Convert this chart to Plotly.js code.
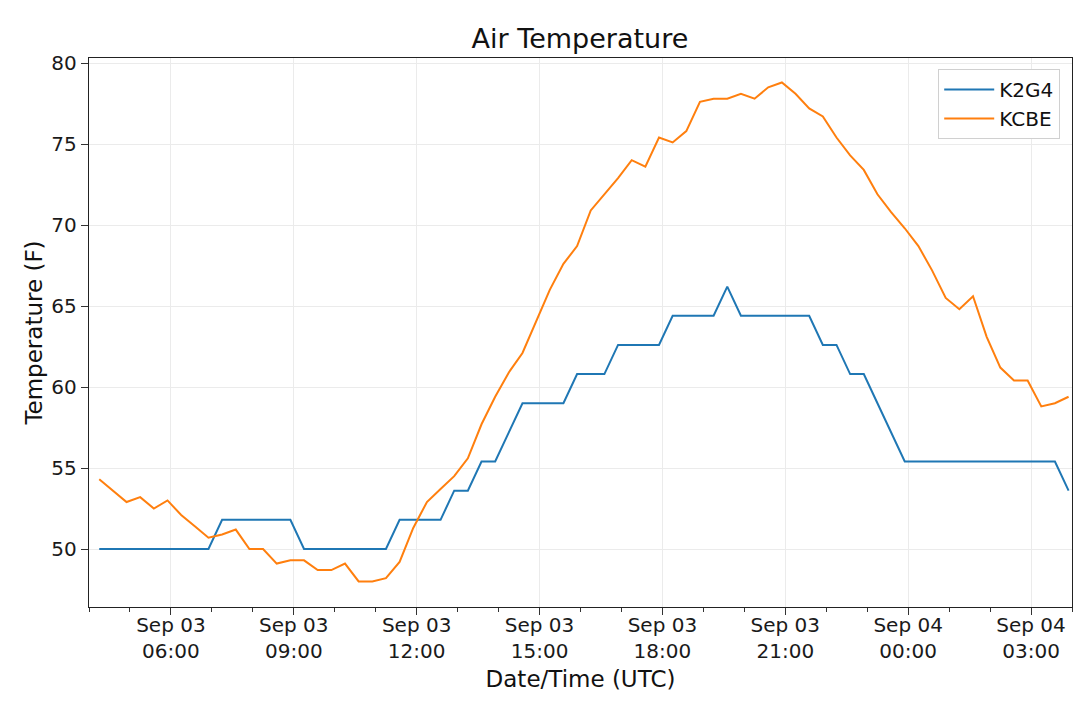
<!DOCTYPE html>
<html>
<head>
<meta charset="utf-8">
<script src="https://cdn.plot.ly/plotly-3.0.1.min.js"></script>
<style>
  html, body { margin: 0; padding: 0; background: #fff; }
  #chart { width: 1080px; height: 704px; }
</style>
</head>
<body>
<div id="chart"></div>
<script>
// observation times (UTC), every 20 minutes
var times = [
  '2019-09-03 04:15', '2019-09-03 04:35', '2019-09-03 04:55', '2019-09-03 05:15', '2019-09-03 05:35', '2019-09-03 05:55',
  '2019-09-03 06:15', '2019-09-03 06:35', '2019-09-03 06:55', '2019-09-03 07:15', '2019-09-03 07:35', '2019-09-03 07:55',
  '2019-09-03 08:15', '2019-09-03 08:35', '2019-09-03 08:55', '2019-09-03 09:15', '2019-09-03 09:35', '2019-09-03 09:55',
  '2019-09-03 10:15', '2019-09-03 10:35', '2019-09-03 10:55', '2019-09-03 11:15', '2019-09-03 11:35', '2019-09-03 11:55',
  '2019-09-03 12:15', '2019-09-03 12:35', '2019-09-03 12:55', '2019-09-03 13:15', '2019-09-03 13:35', '2019-09-03 13:55',
  '2019-09-03 14:15', '2019-09-03 14:35', '2019-09-03 14:55', '2019-09-03 15:15', '2019-09-03 15:35', '2019-09-03 15:55',
  '2019-09-03 16:15', '2019-09-03 16:35', '2019-09-03 16:55', '2019-09-03 17:15', '2019-09-03 17:35', '2019-09-03 17:55',
  '2019-09-03 18:15', '2019-09-03 18:35', '2019-09-03 18:55', '2019-09-03 19:15', '2019-09-03 19:35', '2019-09-03 19:55',
  '2019-09-03 20:15', '2019-09-03 20:35', '2019-09-03 20:55', '2019-09-03 21:15', '2019-09-03 21:35', '2019-09-03 21:55',
  '2019-09-03 22:15', '2019-09-03 22:35', '2019-09-03 22:55', '2019-09-03 23:15', '2019-09-03 23:35', '2019-09-03 23:55',
  '2019-09-04 00:15', '2019-09-04 00:35', '2019-09-04 00:55', '2019-09-04 01:15', '2019-09-04 01:35', '2019-09-04 01:55',
  '2019-09-04 02:15', '2019-09-04 02:35', '2019-09-04 02:55', '2019-09-04 03:15', '2019-09-04 03:35', '2019-09-04 03:55'
];

// K2G4 air temperature (F)
var k2g4 = [
  50.0, 50.0, 50.0, 50.0, 50.0, 50.0,
  50.0, 50.0, 50.0, 51.8, 51.8, 51.8,
  51.8, 51.8, 51.8, 50.0, 50.0, 50.0,
  50.0, 50.0, 50.0, 50.0, 51.8, 51.8,
  51.8, 51.8, 53.6, 53.6, 55.4, 55.4,
  57.2, 59.0, 59.0, 59.0, 59.0, 60.8,
  60.8, 60.8, 62.6, 62.6, 62.6, 62.6,
  64.4, 64.4, 64.4, 64.4, 66.2, 64.4,
  64.4, 64.4, 64.4, 64.4, 64.4, 62.6,
  62.6, 60.8, 60.8, 59.0, 57.2, 55.4,
  55.4, 55.4, 55.4, 55.4, 55.4, 55.4,
  55.4, 55.4, 55.4, 55.4, 55.4, 53.6
];

// KCBE air temperature (F)
var kcbe = [
  54.3, 53.6, 52.9, 53.2, 52.5, 53.0,
  52.1, 51.4, 50.7, 50.9, 51.2, 50.0,
  50.0, 49.1, 49.3, 49.3, 48.7, 48.7,
  49.1, 48.0, 48.0, 48.2, 49.2, 51.3,
  52.9, 53.7, 54.5, 55.6, 57.7, 59.4,
  60.9, 62.1, 64.0, 66.0, 67.6, 68.7,
  70.9, 71.9, 72.9, 74.0, 73.6, 75.4,
  75.1, 75.8, 77.6, 77.8, 77.8, 78.1,
  77.8, 78.5, 78.8, 78.1, 77.2, 76.7,
  75.4, 74.3, 73.4, 71.9, 70.8, 69.8,
  68.7, 67.2, 65.5, 64.8, 65.6, 63.1,
  61.2, 60.4, 60.4, 58.8, 59.0, 59.4
];

var font = 'DejaVu Sans, sans-serif';

var traces = [
  {x: times, y: k2g4, name: 'K2G4', type: 'scatter', mode: 'lines',
   line: {color: '#1f77b4', width: 2}},
  {x: times, y: kcbe, name: 'KCBE', type: 'scatter', mode: 'lines',
   line: {color: '#ff7f0e', width: 2}}
];

var layout = {
  width: 1080,
  height: 704,
  margin: {l: 89, r: 8, t: 58, b: 97},
  paper_bgcolor: '#ffffff',
  plot_bgcolor: '#ffffff',
  font: {family: font, size: 20, color: '#1a1a1a'},
  title: {text: 'Air Temperature', font: {family: font, size: 27, color: '#111'},
          x: 0.537, xanchor: 'center', y: 0.945, yanchor: 'middle'},
  showlegend: true,
  legend: {x: 0.988, y: 0.98, xanchor: 'right', yanchor: 'top',
           bgcolor: '#ffffff', bordercolor: '#d0d0d0', borderwidth: 1,
           itemwidth: 50, tracegroupgap: 4,
           font: {family: font, size: 20, color: '#111'}},
  xaxis: {
    type: 'date',
    range: ['2019-09-03 04:00', '2019-09-04 04:00'],
    tick0: '2019-09-03 00:00',
    dtick: 3 * 3600000,
    tickformat: '%b %d<br>%H:%M',
    ticks: 'outside', ticklen: 7, tickwidth: 1, tickcolor: '#333',
    ticklabelstandoff: -7,
    minor: {dtick: 3600000, ticks: 'outside', ticklen: 4, tickcolor: '#333', showgrid: false},
    showgrid: true, gridcolor: '#ebebeb', gridwidth: 1,
    showline: true, linecolor: '#222', linewidth: 1.2, mirror: true,
    zeroline: false,
    tickfont: {family: font, size: 20, color: '#1a1a1a'},
    title: {text: 'Date/Time (UTC)', font: {family: font, size: 23, color: '#111'}, standoff: 8}
  },
  yaxis: {
    range: [46.42, 80.31],
    tick0: 50, dtick: 5,
    ticks: 'outside', ticklen: 7, tickwidth: 1, tickcolor: '#333',
    showgrid: true, gridcolor: '#ebebeb', gridwidth: 1,
    showline: true, linecolor: '#222', linewidth: 1.2, mirror: true,
    zeroline: false,
    tickfont: {family: font, size: 20, color: '#1a1a1a'},
    title: {text: 'Temperature (F)', font: {family: font, size: 23, color: '#111'}, standoff: 2}
  }
};

Plotly.newPlot('chart', traces, layout, {displayModeBar: false, staticPlot: true});
</script>
</body>
</html>
